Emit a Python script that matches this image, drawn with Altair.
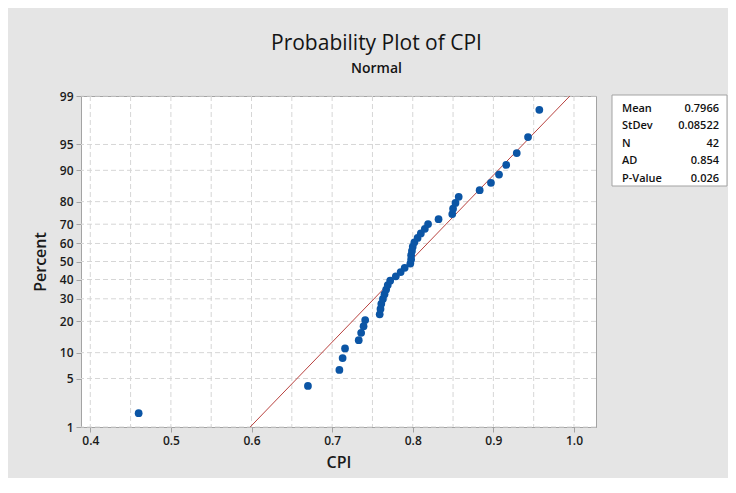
import altair as alt
import pandas as pd
from statistics import NormalDist

# ---- data ----
cpi = [0.460, 0.670, 0.709, 0.713, 0.716, 0.733, 0.736, 0.739, 0.741,
       0.759, 0.760, 0.761, 0.763, 0.765, 0.767, 0.769, 0.772, 0.779, 0.785, 0.790,
       0.797, 0.798, 0.798, 0.799, 0.800, 0.802, 0.806, 0.810, 0.815, 0.819,
       0.832, 0.849, 0.850, 0.853, 0.857, 0.883, 0.897, 0.907, 0.916, 0.929, 0.943, 0.957]
mean_cpi = 0.7966
sd_cpi = 0.08522
percent_ticks = [1, 5, 10, 20, 30, 40, 50, 60, 70, 80, 90, 95, 99]
x_ticks = [0.4, 0.5, 0.6, 0.7, 0.8, 0.9, 1.0]
x_grid = [0.4, 0.45, 0.5, 0.55, 0.6, 0.65, 0.7, 0.75, 0.8, 0.85, 0.9, 0.95, 1.0]
stat_names = ["Mean", "StDev", "N", "AD", "P-Value"]
stat_values = ["0.7966", "0.08522", "42", "0.854", "0.026"]

n = len(cpi)
nd = NormalDist()
z_ticks = [nd.inv_cdf(p / 100) for p in percent_ticks]
z_lo, z_hi = z_ticks[0], z_ticks[-1]

FONT = "Open Sans"
GRID = "#d6d6d6"
FRAME = "#a3a3a3"

xscale = alt.Scale(domain=[0.3885, 1.0273], nice=False, zero=False)
yscale = alt.Scale(domain=[z_lo, z_hi], nice=False, zero=False)

x_axis = alt.Axis(values=x_ticks, format=".1f", grid=False, title="CPI",
                  titlePadding=8, labelPadding=3)
y_axis = alt.Axis(values=z_ticks, grid=False, title="Percent",
                  labelExpr="format(cumulativeNormal(datum.value) * 100, '.0f')",
                  titlePadding=11, labelPadding=3)

pts_df = pd.DataFrame({"CPI": cpi})
xgrid_df = pd.DataFrame({"CPI": x_grid})
ygrid_df = pd.DataFrame({"p": percent_ticks})
fit_df = pd.DataFrame({"z": [-3.0, 3.0]})
stats_df = pd.DataFrame({"name": stat_names, "value": stat_values})

xgrid = alt.Chart(xgrid_df).mark_rule(color=GRID, strokeDash=[5, 3], strokeWidth=1).encode(
    x=alt.X("CPI:Q", scale=xscale, axis=x_axis)
)

ygrid = alt.Chart(ygrid_df).transform_calculate(
    z="quantileNormal(datum.p / 100)"
).mark_rule(color=GRID, strokeDash=[5, 3], strokeWidth=1).encode(
    y=alt.Y("z:Q", scale=yscale, axis=y_axis)
)

fit = alt.Chart(fit_df).transform_calculate(
    CPI=f"{mean_cpi} + {sd_cpi} * datum.z"
).mark_line(color="#b8423f", strokeWidth=1, clip=True).encode(
    x=alt.X("CPI:Q", scale=xscale, axis=x_axis),
    y=alt.Y("z:Q", scale=yscale, axis=y_axis),
)

points = alt.Chart(pts_df).transform_window(
    rank="row_number()", sort=[alt.SortField("CPI")]
).transform_calculate(
    z=f"quantileNormal((datum.rank - 0.3) / ({n} + 0.4))"
).mark_circle(size=60, opacity=1, color="#0b55a5").encode(
    x=alt.X("CPI:Q", scale=xscale, axis=x_axis),
    y=alt.Y("z:Q", scale=yscale, axis=y_axis),
)

box = alt.Chart(stats_df).mark_rect(fill="white", stroke=FRAME, strokeWidth=1).encode(
    x=alt.value(531), x2=alt.value(646), y=alt.value(-1), y2=alt.value(90)
).transform_filter("datum.name == 'Mean'")

row_scale = alt.Scale(type="point", domain=stat_names, range=[12.5, 82.5], padding=0)

stat_lab = alt.Chart(stats_df).mark_text(
    align="left", baseline="middle", font=FONT, fontSize=11, color="#111111", fontWeight=600
).encode(
    x=alt.value(541),
    y=alt.Y("name:N", scale=row_scale, axis=None),
    text="name:N",
)

stat_val = alt.Chart(stats_df).mark_text(
    align="right", baseline="middle", font=FONT, fontSize=11, color="#111111", fontWeight=600
).encode(
    x=alt.value(638),
    y=alt.Y("name:N", scale=row_scale, axis=None),
    text="value:N",
)

main = alt.layer(xgrid, ygrid, fit, points)
stats = alt.layer(box, stat_lab, stat_val)

chart = alt.layer(main, stats).resolve_scale(y="independent").properties(
    width=515,
    height=331,
    autosize=alt.AutoSizeParams(type="none"),
    padding={"left": 73, "top": 88, "right": 132, "bottom": 51},
    background="#e5e5e5",
    title=alt.TitleParams(
        text="Probability Plot of CPI",
        subtitle="Normal",
        anchor="middle",
        frame="group",
        dx=38,
        offset=14,
        font=FONT,
        fontSize=21,
        fontWeight=500,
        color="#141414",
        subtitleFont=FONT,
        subtitleFontSize=14,
        subtitleFontWeight=600,
        subtitleColor="#141414",
        subtitlePadding=8,
    ),
).configure_view(
    stroke=FRAME, fill="white"
).configure_axis(
    domainColor=FRAME,
    tickColor=FRAME,
    tickSize=5,
    labelFont=FONT,
    labelFontSize=12,
    labelColor="#1a1a1a",
    labelFontWeight=600,
    titleFont=FONT,
    titleFontSize=16,
    titleFontWeight=600,
    titleColor="#1a1a1a",
)

chart.save("out.html", embed_options={"renderer": "svg", "actions": False})
